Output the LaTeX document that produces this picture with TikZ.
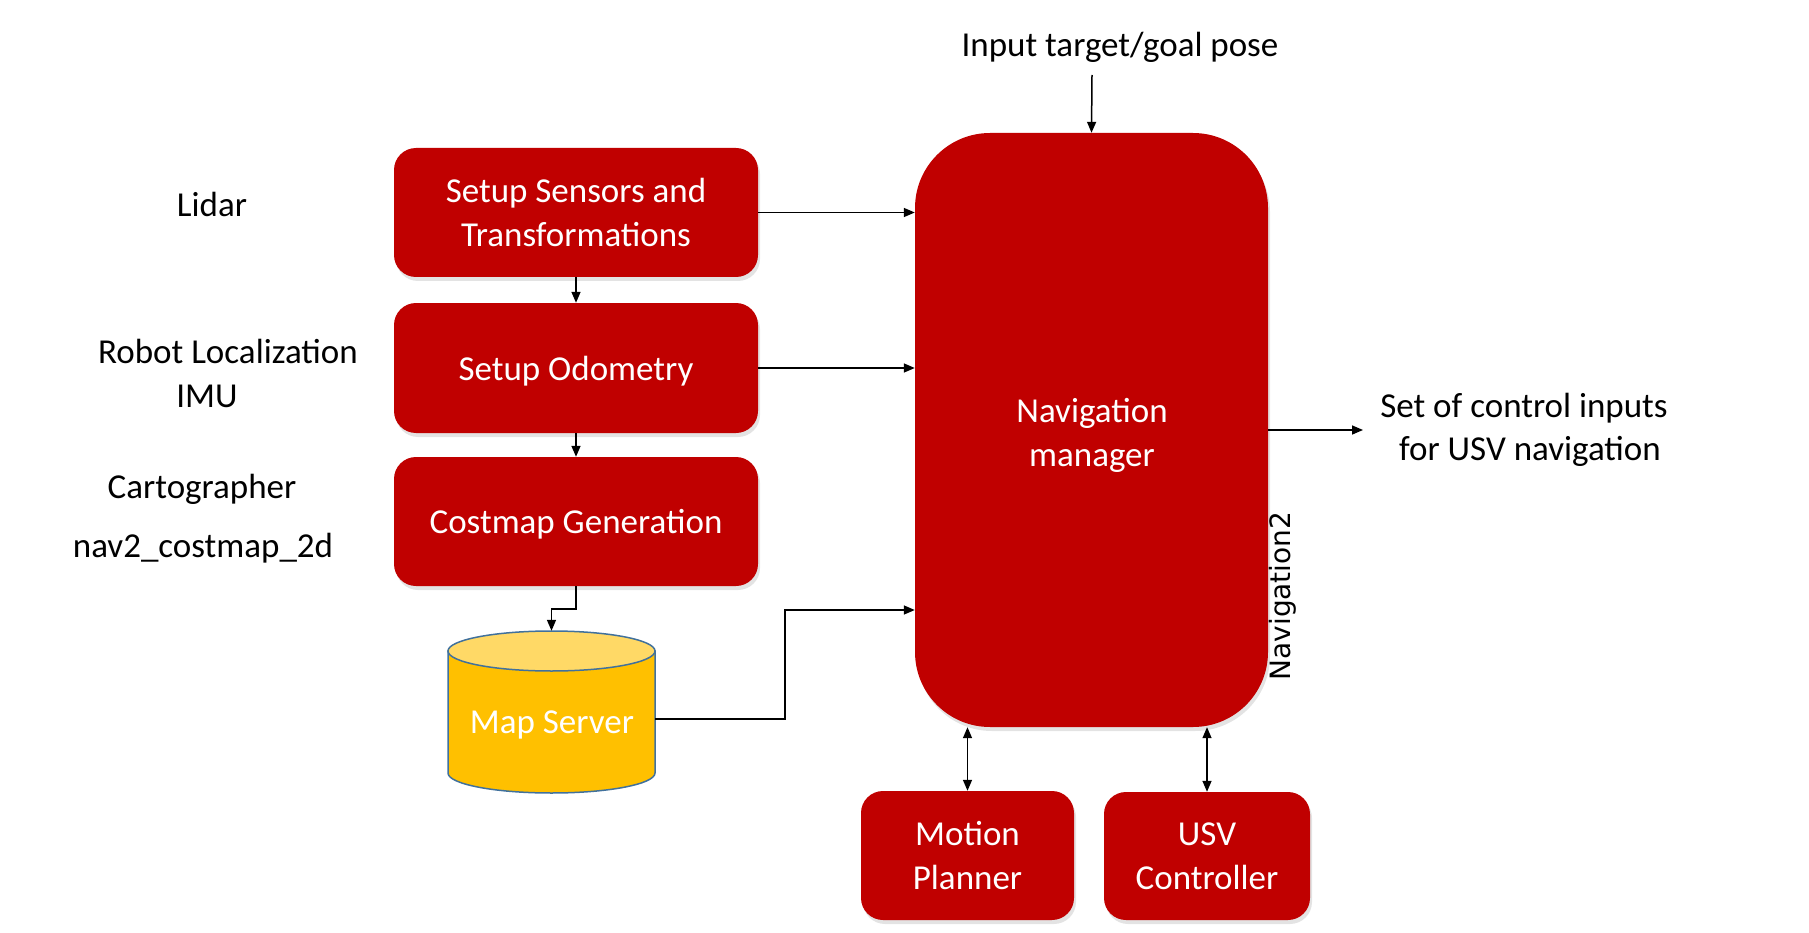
\documentclass[tikz,border=0pt]{standalone}
\usepackage{fontspec}
\setmainfont{Carlito}
\newfontfamily\dejavu{DejaVu Sans}
\usetikzlibrary{arrows.meta,shadows}
\definecolor{boxred}{HTML}{C00000}
\definecolor{cylbody}{HTML}{FFC000}
\definecolor{cyltop}{HTML}{FFD966}
\definecolor{cylline}{HTML}{41719C}
\begin{document}
\begin{tikzpicture}[x=1pt,y=-1pt,
  redbox/.style={rectangle, rounded corners=22pt, fill=boxred, text=white,
    font=\fontsize{35}{44}\selectfont, align=center, inner sep=0pt,
    drop shadow={shadow xshift=2pt, shadow yshift=-4pt, opacity=0.22}},
  lbl/.style={font=\fontsize{35}{44}\selectfont, anchor=base, inner sep=0pt},
  arr/.style={-{Triangle[length=11pt,width=9pt]}, line width=1.5pt},
  darr/.style={{Triangle[length=11pt,width=9pt]}-{Triangle[length=11pt,width=9pt]}, line width=1.5pt}]
\useasboundingbox (0,0) rectangle (1809,933);

% main blocks
\node[redbox, minimum width=364pt, minimum height=129pt] (sens) at (576,212.5) {Setup Sensors and\\Transformations};
\node[redbox, minimum width=364pt, minimum height=130pt, text depth=0pt] (odo) at (576,368) {Setup Odometry};
\node[redbox, minimum width=364pt, minimum height=129pt, text depth=0pt] (cost) at (576,521.5) {Costmap Generation};
\node[redbox, rounded corners=75pt, minimum width=353pt, minimum height=594pt] (nav) at (1091.5,430) {};
\node[lbl, anchor=center, text=white] (navt) at (1092,436) {\begin{tabular}{@{}c@{}}Navigation\\[0pt]manager\end{tabular}};
\node[redbox, minimum width=213pt, minimum height=129pt] (mp) at (967.5,855.5) {Motion\\Planner};
\node[redbox, minimum width=206pt, minimum height=128pt] (usv) at (1207,856) {USV\\Controller};

% cylinder (Map Server)
\path[fill=cylbody, draw=cylline, line width=1.5pt]
  (448,651) -- (448,773) arc[start angle=180, end angle=360, x radius=103.5pt, y radius=20pt] -- (655,651) -- cycle;
\path[fill=cyltop, draw=cylline, line width=1.5pt] (551.5,651) ellipse[x radius=103.5pt, y radius=20pt];
\node[rectangle, inner sep=0pt, minimum width=207pt, minimum height=176pt] (ms) at (551.5,719) {};
\node[lbl, text=white] (mst) at (552,733) {Map Server};

% side labels
\node[lbl] (lidar) at (212,217) {Lidar};
\node[lbl] (robloc) at (228,363) {Robot Localization};
\node[lbl] (imu) at (207,407) {IMU};
\node[lbl] (carto) at (202,498) {Cartographer};
\node[lbl] (costmap2d) at (203,557) {nav2\_costmap\_2d};
\node[lbl] (goal) at (1120,57) {Input target/goal pose};
\node[lbl] (ctrl1) at (1524,417) {Set of control inputs};
\node[lbl] (ctrl2) at (1530,460) {for USV navigation};
\node[font=\dejavu\fontsize{28}{34}\selectfont, rotate=90, inner sep=0pt] (nav2) at (1283,596) {Navigation2};

% connectors
\coordinate (goalend) at (1092,75);
\coordinate (outend) at (1363,430);
\draw[arr] (goalend) -- (nav.north);
\draw[arr] (sens.south) -- (odo.north);
\draw[arr] (odo.south) -- (cost.north);
\draw[arr] (sens.east) -- (nav.west |- sens.east);
\draw[arr] (odo.east) -- (nav.west |- odo.east);
\draw[arr] (cost.south) -- ++(0,23) -| (ms.north);
\draw[arr] (ms.east) -- ++(130,0) |- (nav.west |- 0,610);
\draw[arr] (nav.east) -- (outend);
\draw[darr] (mp.north) -- (mp.north |- nav.south);
\draw[darr] (usv.north) -- (usv.north |- nav.south);
\end{tikzpicture}
\end{document}
